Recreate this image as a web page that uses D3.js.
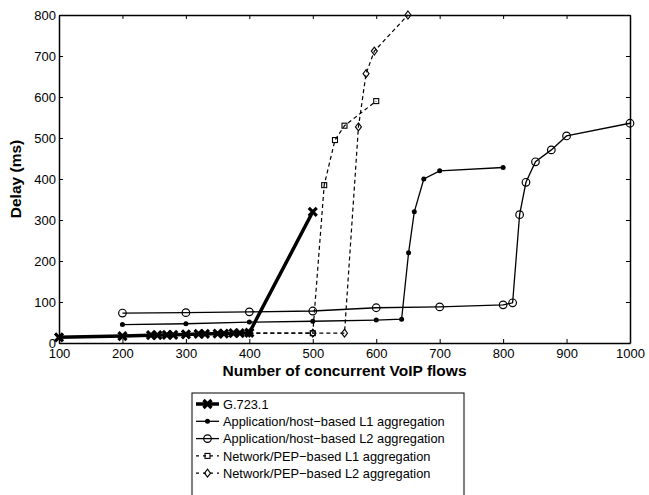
<!DOCTYPE html>
<html>
<head>
<meta charset="utf-8">
<script src="https://cdn.jsdelivr.net/npm/d3@7"></script>
<style>
  body { margin: 0; background: #fff; }
  svg { font-family: "Liberation Sans", Arial, sans-serif; }
</style>
</head>
<body>
<svg width="649" height="495"></svg>
<script>
// data
var xTicks = [100, 200, 300, 400, 500, 600, 700, 800, 900, 1000];
var yTicks = [0, 100, 200, 300, 400, 500, 600, 700, 800];

var g723X = [100, 200, 245, 255, 270, 280, 300, 320, 330, 350, 360, 375, 385, 400, 500];
var g723Y = [14, 17, 19, 19, 20, 20, 21, 22, 22, 23, 23, 24, 24, 25, 320];

var appL1X = [200, 300, 400, 500, 600, 640, 651, 660, 675, 700, 800];
var appL1Y = [45, 47, 51, 53, 56, 58, 220, 320, 400, 420, 428];

var appL2X = [200, 300, 400, 500, 600, 700, 800, 815, 826, 836, 851, 876, 900, 1000];
var appL2Y = [73, 74, 76, 78, 86, 88, 93, 98, 313, 392, 442, 471, 505, 536];

var pepL1X = [400, 500, 518, 535, 550, 600];
var pepL1Y = [24, 24, 385, 495, 530, 590];

var pepL2X = [400, 500, 550, 572, 584, 597, 650];
var pepL2Y = [24, 24, 24, 527, 657, 712, 800];

var names = ["G.723.1",
  "Application/host\u2212based L1 aggregation",
  "Application/host\u2212based L2 aggregation",
  "Network/PEP\u2212based L1 aggregation",
  "Network/PEP\u2212based L2 aggregation"];

function zip(xs, ys) { return xs.map(function(x, i){ return {x: x, y: ys[i]}; }); }

var series = [
  {name: names[3], pts: zip(pepL1X, pepL1Y), width: 1.2, dash: "4,3", marker: "square"},
  {name: names[4], pts: zip(pepL2X, pepL2Y), width: 1.2, dash: "4,3", marker: "diamond"},
  {name: names[1], pts: zip(appL1X, appL1Y), width: 1.3, dash: null, marker: "dot"},
  {name: names[2], pts: zip(appL2X, appL2Y), width: 1.3, dash: null, marker: "circle"},
  {name: names[0], pts: zip(g723X, g723Y), width: 3.5, dash: null, marker: "x"}
];

var svg = d3.select("svg");
var pLeft = 59, pRight = 630, pTop = 15, pBottom = 343;

var x = d3.scaleLinear().domain([100, 1000]).range([pLeft, pRight]);
var y = d3.scaleLinear().domain([0, 800]).range([pBottom, pTop]);

// frame with inward ticks on all sides
svg.append("g").attr("transform", "translate(0," + pBottom + ")")
  .call(d3.axisBottom(x).tickValues(xTicks).tickFormat(d3.format("d")).tickSizeInner(-4).tickSizeOuter(0).tickPadding(6))
  .call(function(g){ g.selectAll("text").attr("font-size", 13).attr("fill", "#000"); });
svg.append("g").attr("transform", "translate(0," + pTop + ")")
  .call(d3.axisTop(x).tickValues(xTicks).tickSizeInner(-4).tickSizeOuter(0).tickFormat(""));
svg.append("g").attr("transform", "translate(" + pLeft + ",0)")
  .call(d3.axisLeft(y).tickValues(yTicks).tickSizeInner(-4).tickSizeOuter(0).tickPadding(3))
  .call(function(g){ g.selectAll("text").attr("font-size", 13).attr("fill", "#000"); });
svg.append("g").attr("transform", "translate(" + pRight + ",0)")
  .call(d3.axisRight(y).tickValues(yTicks).tickSizeInner(-4).tickSizeOuter(0).tickFormat(""));
svg.selectAll(".domain").attr("stroke", "#000").attr("stroke-width", 1.5);
svg.selectAll(".tick line").attr("stroke", "#000");

// axis titles
svg.append("text").attr("x", (pLeft + pRight) / 2).attr("y", 376)
  .attr("text-anchor", "middle").attr("font-size", 15.5).attr("font-weight", "bold")
  .text("Number of concurrent VoIP flows");
svg.append("text").attr("transform", "translate(21," + (pTop + pBottom) / 2 + ") rotate(-90)")
  .attr("text-anchor", "middle").attr("font-size", 15.5).attr("font-weight", "bold")
  .text("Delay (ms)");

function drawMarker(g, type, cx, cy) {
  if (type == "dot") {
    g.append("circle").attr("cx", cx).attr("cy", cy).attr("r", 2.5).attr("fill", "#000");
  } else if (type == "circle") {
    g.append("circle").attr("cx", cx).attr("cy", cy).attr("r", 3.8)
      .attr("fill", "none").attr("stroke", "#000").attr("stroke-width", 1.2);
  } else if (type == "square") {
    g.append("rect").attr("x", cx - 2.5).attr("y", cy - 2.5).attr("width", 5).attr("height", 5)
      .attr("fill", "none").attr("stroke", "#000").attr("stroke-width", 1.1);
  } else if (type == "diamond") {
    var s = 4;
    g.append("path").attr("d", "M" + cx + "," + (cy - s) + "L" + (cx + s * 0.75) + "," + cy +
      "L" + cx + "," + (cy + s) + "L" + (cx - s * 0.75) + "," + cy + "Z")
      .attr("fill", "none").attr("stroke", "#000").attr("stroke-width", 1.1);
  } else if (type == "x") {
    var s = 4;
    g.append("path").attr("d", "M" + (cx - s) + "," + (cy - s) + "L" + (cx + s) + "," + (cy + s) +
      "M" + (cx - s) + "," + (cy + s) + "L" + (cx + s) + "," + (cy - s))
      .attr("stroke", "#000").attr("stroke-width", 3.2);
  }
}

var line = d3.line().x(function(d){ return x(d.x); }).y(function(d){ return y(d.y); });

series.forEach(function(s) {
  var g = svg.append("g");
  g.append("path").datum(s.pts).attr("d", line)
    .attr("fill", "none").attr("stroke", "#000").attr("stroke-width", s.width)
    .attr("stroke-dasharray", s.dash);
  s.pts.forEach(function(d){ drawMarker(g, s.marker, x(d.x), y(d.y)); });
});

// legend
var legX = 192, legY = 393, rowH = 17.3;
var legOrder = [4, 2, 3, 0, 1];
svg.append("rect").attr("x", legX).attr("y", legY).attr("width", 272).attr("height", 110)
  .attr("fill", "#fff").attr("stroke", "#000").attr("stroke-width", 1);
legOrder.forEach(function(si, i) {
  var s = series[si];
  var cy = legY + 11 + i * rowH;
  var g = svg.append("g");
  g.append("line").attr("x1", legX + 4).attr("x2", legX + 27).attr("y1", cy).attr("y2", cy)
    .attr("stroke", "#000").attr("stroke-width", s.width).attr("stroke-dasharray", s.dash ? "3,4" : null);
  drawMarker(g, s.marker, legX + 15.5, cy);
  g.append("text").attr("x", legX + 31).attr("y", cy).attr("dy", "0.36em")
    .attr("font-size", 12.8).text(s.name);
});
</script>
</body>
</html>
